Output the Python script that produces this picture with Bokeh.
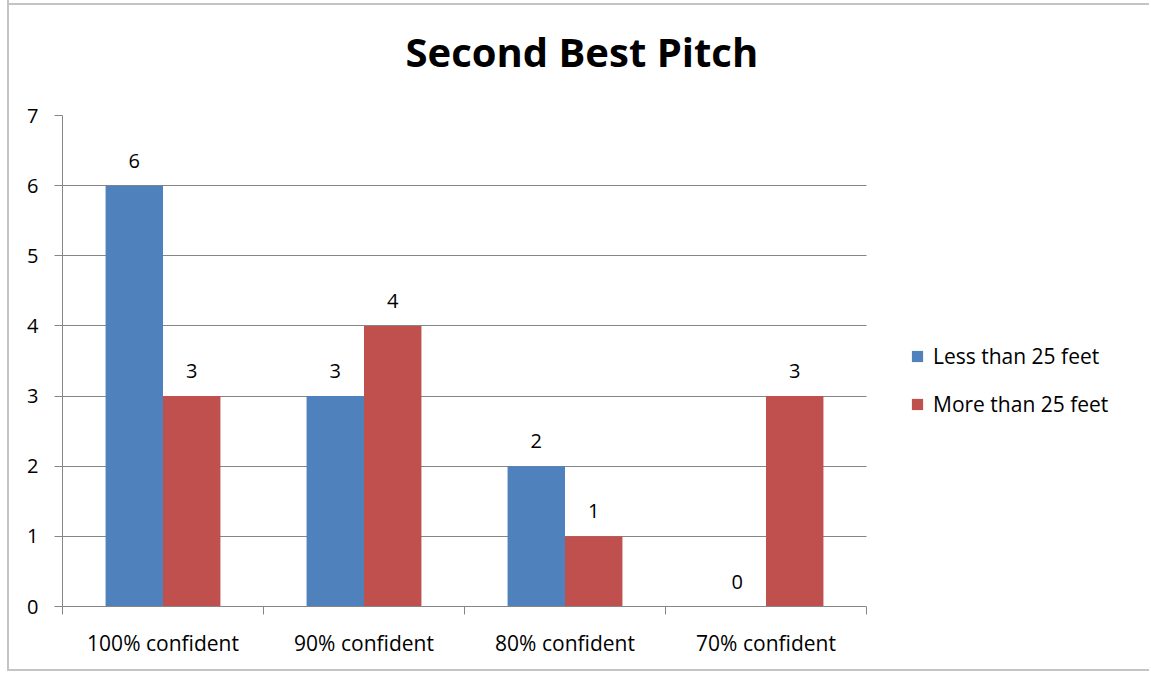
from bokeh.plotting import figure
from bokeh.models import (Range1d, FixedTicker, Legend, LegendItem, ColumnDataSource, Title, Grid)
from bokeh.core.properties import value
from bokeh.embed import file_html
from bokeh.resources import INLINE

categories = ["100% confident", "90% confident", "80% confident", "70% confident"]
series_names = ["Less than 25 feet", "More than 25 feet"]
less_than_25 = [6, 3, 2, 0]
more_than_25 = [3, 4, 1, 3]
y_ticks = [0, 1, 2, 3, 4, 5, 6, 7]
colors = ["#4F81BD", "#C0504D"]

n = len(categories)
W, H = 1142, 691
FL, FT, FW, FH = 53, 135, 1065, 491
CAT_W = 804  # pixel width of the category area
x_end = n * FW / CAT_W
p = figure(width=W, height=H, output_backend="svg", toolbar_location=None,
           x_range=Range1d(0, x_end), y_range=Range1d(0, 7),
           min_border_left=FL, min_border_right=W - FL - FW,
           min_border_top=FT, min_border_bottom=H - FT - FH,
           styles={"border-left": "2px solid #C4C4C4",
                   "border-bottom": "2px solid #C4C4C4",
                   "background": "linear-gradient(#C4C4C4, #C4C4C4) 0 23px / 100% 2px no-repeat",
                   "margin-left": "7px", "margin-top": "-20px"})
p.border_fill_alpha = 0
p.background_fill_color = "#FFFFFF"
p.title = None
t = Title(text="Second Best Pitch", align="left", text_font="Open Sans",
          text_font_size="40px", text_font_style="bold", text_color="#000000",
          offset=343, standoff=74)
p.add_layout(t, "above")

bar_w = 1 / 3.5
xs_left = [i + 0.5 - bar_w / 2 for i in range(n)]
xs_right = [i + 0.5 + bar_w / 2 for i in range(n)]
src1 = ColumnDataSource(dict(x=xs_left, top=less_than_25, lab=[str(v) for v in less_than_25]))
src2 = ColumnDataSource(dict(x=xs_right, top=more_than_25, lab=[str(v) for v in more_than_25]))

p.outline_line_color = None
p.xgrid.grid_line_color = None
if "cross_bounds" in Grid.properties():
    p.ygrid.ticker = FixedTicker(ticks=y_ticks)
    p.ygrid.grid_line_color = "#868686"
    p.ygrid.cross_bounds = (0, n)
else:
    p.ygrid.grid_line_color = None
    p.segment(x0=[0] * len(y_ticks), x1=[n] * len(y_ticks), y0=y_ticks, y1=y_ticks,
              line_color="#868686", line_width=1)

r1 = p.vbar(x="x", top="top", width=bar_w, source=src1, fill_color=colors[0], line_color=None)
r2 = p.vbar(x="x", top="top", width=bar_w, source=src2, fill_color=colors[1], line_color=None)
for s in (src1, src2):
    p.text(x="x", y="top", text="lab", source=s, text_align="center", text_baseline="alphabetic",
           y_offset=-25, text_font=value("Open Sans"), text_font_size="20px", text_color="#000000")

p.yaxis.ticker = FixedTicker(ticks=y_ticks)
p.yaxis.axis_line_color = "#868686"
p.yaxis.major_tick_line_color = "#868686"
p.yaxis.major_tick_out = 8
p.yaxis.major_tick_in = 0
p.yaxis.minor_tick_line_color = None
p.yaxis.major_label_text_font = "Open Sans"
p.yaxis.major_label_text_font_size = "20px"
p.yaxis.major_label_text_color = "#000000"
p.yaxis.major_label_standoff = 16

centers = [i + 0.5 for i in range(n)]
p.xaxis.ticker = FixedTicker(ticks=centers, minor_ticks=list(range(0, n + 1)))
p.xaxis.major_label_overrides = {c: lab for c, lab in zip(centers, categories)}
p.xaxis.bounds = (0, n)
p.xaxis.axis_line_color = "#868686"
p.xaxis.major_tick_line_color = None
p.xaxis.major_tick_out = 0
p.xaxis.major_tick_in = 0
p.xaxis.minor_tick_line_color = "#868686"
p.xaxis.minor_tick_out = 8
p.xaxis.minor_tick_in = 0
p.xaxis.major_label_text_font = "Open Sans"
p.xaxis.major_label_text_font_size = "21px"
p.xaxis.major_label_text_color = "#000000"
p.xaxis.major_label_standoff = 14

legend = Legend(items=[LegendItem(label=series_names[0], renderers=[r1]),
                       LegendItem(label=series_names[1], renderers=[r2])],
                location=(848, 188), orientation="vertical",
                glyph_width=14, glyph_height=14, label_height=20, spacing=20,
                label_text_font="Open Sans", label_text_font_size="21px",
                label_text_color="#000000", border_line_color=None,
                background_fill_alpha=0, padding=0, margin=0, label_standoff=9)
p.add_layout(legend, "center")

open("out.html", "w").write(file_html(p, INLINE))
